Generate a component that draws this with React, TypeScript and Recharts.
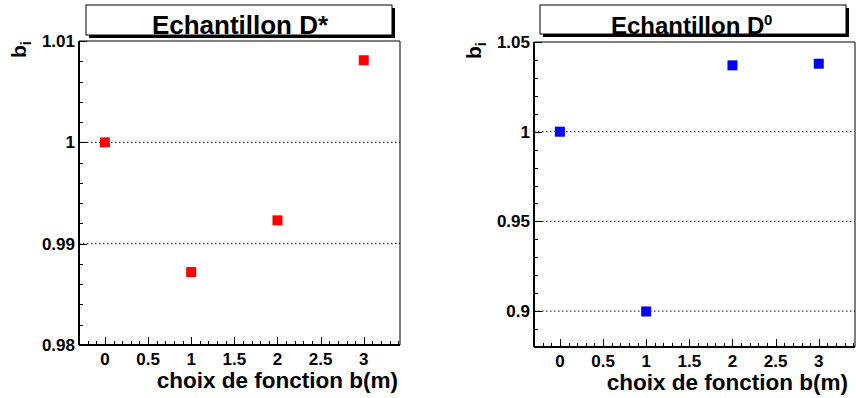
import React from 'react';
import { ScatterChart, Scatter, XAxis, YAxis, ReferenceLine } from 'recharts';

const FONT = '"Liberation Sans", Arial, Helvetica, sans-serif';

// fonction b(m) choice index
const choices = [0, 1, 2, 3];
const dStarB = [1.0, 0.9872, 0.9923, 1.0081];
const d0B = [1.0, 0.8998, 1.037, 1.0379];

const xTicks = [
  -0.2, -0.1, 0, 0.1, 0.2, 0.3, 0.4, 0.5, 0.6, 0.7, 0.8, 0.9, 1, 1.1, 1.2, 1.3, 1.4, 1.5, 1.6, 1.7, 1.8, 1.9,
  2, 2.1, 2.2, 2.3, 2.4, 2.5, 2.6, 2.7, 2.8, 2.9, 3, 3.1, 3.2, 3.3, 3.4,
];
const dStarTicks = [
  0.98, 0.982, 0.984, 0.986, 0.988, 0.99, 0.992, 0.994, 0.996, 0.998, 1, 1.002, 1.004, 1.006, 1.008, 1.01,
];
const d0Ticks = [
  0.88, 0.89, 0.9, 0.91, 0.92, 0.93, 0.94, 0.95, 0.96, 0.97, 0.98, 0.99, 1, 1.01, 1.02, 1.03, 1.04, 1.05,
];
const dStarGrid = [0.99, 1];
const d0Grid = [0.9, 0.95, 1];

const isMajor = (v: number, step: number) => Math.abs(v / step - Math.round(v / step)) < 1e-6;
const fmt = (v: number) => String(Number(v.toFixed(3)));

function XTick(props: any) {
  const { x, y, payload } = props;
  if (!isMajor(payload.value, 0.5)) return <g />;
  return (
    <text x={x} y={y + 20} textAnchor="middle" fontFamily={FONT} fontWeight="bold" fontSize={17} fill="#000">
      {fmt(payload.value)}
    </text>
  );
}

const makeYTick = (step: number) => (props: any) => {
  const { x, y, payload } = props;
  if (!isMajor(payload.value, step)) return <g />;
  return (
    <text x={x - 4} y={y + 6} textAnchor="end" fontFamily={FONT} fontWeight="bold" fontSize={17} fill="#000">
      {fmt(payload.value)}
    </text>
  );
};

const makeSquare = (color: string) => (props: any) => {
  const { cx, cy } = props;
  return <rect x={cx - 5} y={cy - 5} width={10} height={10} fill={color} />;
};

type Panel = {
  left: number;
  plotL: number;
  plotT: number;
  plotR: number;
  plotB: number;
  titleEnd: number;
  values: number[];
  ticks: number[];
  grid: number[];
  domain: [number, number];
  step: number;
  color: string;
};

const W = 428;
const H = 398;
const Y_W = 60;
const X_H = 30;
const X_DOMAIN: [number, number] = [-0.3, 3.42];

function PanelChart({ p }: { p: Panel }) {
  const data = choices.map((x, i) => ({ x, b: p.values[i] }));
  return (
    <div style={{ position: 'absolute', left: p.left, top: 0 }}>
      <ScatterChart
        width={W}
        height={H}
        margin={{
          top: p.plotT - 1,
          left: p.plotL - p.left - Y_W,
          right: p.left + W - p.plotR - 1,
          bottom: H - p.plotB - X_H,
        }}
      >
        {p.grid.map((v) => (
          <ReferenceLine key={`g${v}`} y={v} stroke="#000" strokeDasharray="1.5 2.5" strokeWidth={1} />
        ))}
        <XAxis
          xAxisId="top"
          orientation="top"
          type="number"
          domain={X_DOMAIN}
          allowDataOverflow
          height={1}
          tick={false}
          tickLine={false}
          axisLine={{ stroke: '#000', strokeWidth: 1 }}
        />
        <YAxis
          yAxisId="right"
          orientation="right"
          type="number"
          domain={p.domain}
          allowDataOverflow
          width={1}
          tick={false}
          tickLine={false}
          axisLine={{ stroke: '#000', strokeWidth: 1 }}
        />
        <XAxis
          type="number"
          dataKey="x"
          domain={X_DOMAIN}
          allowDataOverflow
          ticks={xTicks}
          interval={0}
          height={X_H}
          tickSize={0}
          tickMargin={0}
          tickLine={false}
          tick={XTick}
          axisLine={{ stroke: '#000', strokeWidth: 2 }}
        />
        <YAxis
          type="number"
          dataKey="b"
          domain={p.domain}
          allowDataOverflow
          ticks={p.ticks}
          interval={0}
          width={Y_W}
          tickSize={0}
          tickMargin={0}
          tickLine={false}
          tick={makeYTick(p.step)}
          axisLine={{ stroke: '#000', strokeWidth: 2 }}
        />
        <Scatter data={data} fill={p.color} shape={makeSquare(p.color)} isAnimationActive={false} />
      </ScatterChart>
    </div>
  );
}

const leftPanel: Panel = {
  left: 0,
  plotL: 79,
  plotT: 41,
  plotR: 400,
  plotB: 345,
  titleEnd: 398,
  values: dStarB,
  ticks: dStarTicks,
  grid: dStarGrid,
  domain: [0.98, 1.01],
  step: 0.01,
  color: '#ff0000',
};

const rightPanel: Panel = {
  left: W,
  plotL: 534,
  plotT: 42,
  plotR: 855,
  plotB: 347,
  titleEnd: 848,
  values: d0B,
  ticks: d0Ticks,
  grid: d0Grid,
  domain: [0.88, 1.05],
  step: 0.05,
  color: '#0000ff',
};

// inward ROOT-style tick marks (major 8px, minor 4px)
function TickMarks({ p }: { p: Panel }) {
  const sx = (v: number) => p.plotL + ((v - X_DOMAIN[0]) / (X_DOMAIN[1] - X_DOMAIN[0])) * (p.plotR - p.plotL);
  const sy = (v: number) => p.plotB - ((v - p.domain[0]) / (p.domain[1] - p.domain[0])) * (p.plotB - p.plotT);
  return (
    <g stroke="#000" strokeWidth={1}>
      {xTicks.map((v) => {
        const x = Math.round(sx(v)) + 0.5;
        return <line key={`x${v}`} x1={x} x2={x} y1={p.plotB} y2={p.plotB - (isMajor(v, 0.5) ? 8 : 4)} />;
      })}
      {p.ticks.map((v) => {
        const y = Math.round(sy(v)) + 0.5;
        return <line key={`y${v}`} x1={p.plotL} x2={p.plotL + (isMajor(v, p.step) ? 8 : 4)} y1={y} y2={y} />;
      })}
    </g>
  );
}

function Titles({ p }: { p: Panel }) {
  const bx = p.plotL - 53;
  const by = p.plotT + 17;
  return (
    <g fontFamily={FONT} fontWeight="bold" fill="#000">
      <text x={p.titleEnd} y={p.plotB + 43} textAnchor="end" fontSize={22.5}>
        choix de fonction b(m)
      </text>
      <g transform={`translate(${bx} ${by}) rotate(-90)`}>
        <text x={0} y={0} fontSize={21}>
          b
          <tspan fontSize={14} dy={5}>
            i
          </tspan>
        </text>
      </g>
    </g>
  );
}

export default function App() {
  return (
    <div style={{ position: 'absolute', left: 0, top: 0, width: 856, height: 398, background: '#fff' }}>
      <PanelChart p={leftPanel} />
      <PanelChart p={rightPanel} />
      <svg width={856} height={398} style={{ position: 'absolute', left: 0, top: 0, pointerEvents: 'none' }}>
        <TickMarks p={leftPanel} />
        <TickMarks p={rightPanel} />
        <rect x={89} y={8} width={306} height={30} fill="#000" />
        <rect x={86} y={5} width={306} height={30} fill="#fff" stroke="#000" strokeWidth={1} />
        <text x={240} y={34} textAnchor="middle" fontFamily={FONT} fontWeight="bold" fontSize={26} fill="#000">
          Echantillon D*
        </text>
        <rect x={543} y={8} width={306} height={29} fill="#000" />
        <rect x={540} y={5} width={306} height={29} fill="#fff" stroke="#000" strokeWidth={1} />
        <text x={611} y={34} fontFamily={FONT} fontWeight="bold" fontSize={24} fill="#000">
          Echantillon D
        </text>
        <text x={764} y={25} fontFamily={FONT} fontWeight="bold" fontSize={15} fill="#000">
          0
        </text>
        <Titles p={leftPanel} />
        <Titles p={rightPanel} />
      </svg>
    </div>
  );
}
